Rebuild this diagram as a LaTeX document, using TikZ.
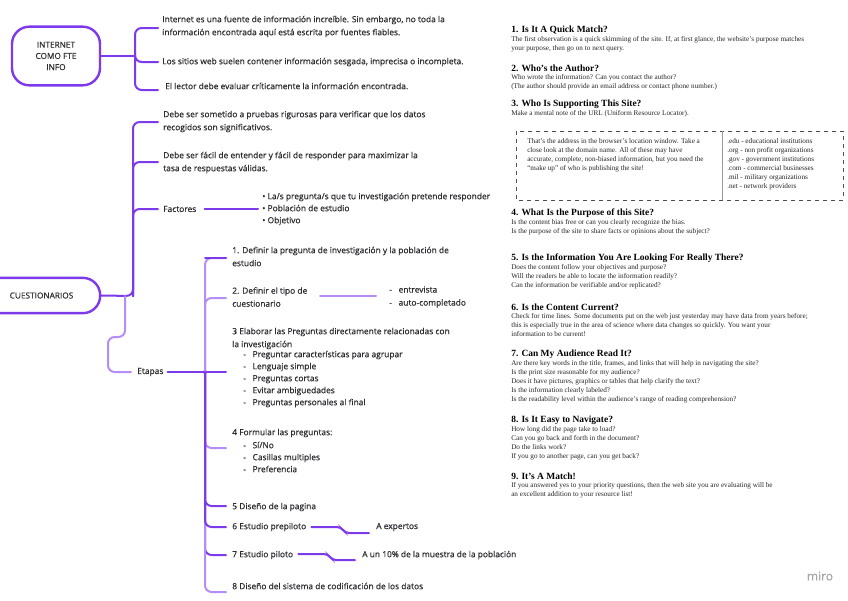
\documentclass[tikz,border=0pt]{standalone}
\usepackage{fontspec}
\setmainfont{Liberation Serif}
\newfontfamily\osans[FakeBold=0.5]{Open Sans}
\usetikzlibrary{calc}
\definecolor{pdark}{RGB}{125,58,235}
\definecolor{plight}{RGB}{180,142,246}
\definecolor{ink}{RGB}{45,45,50}
\begin{document}
\begin{tikzpicture}[x=0.75pt,y=-0.75pt,
  conn/.style={draw=pdark, line width=1.5pt, rounded corners=5pt, line cap=round},
  connl/.style={conn, draw=plight},
  mm/.style={font=\fontsize{6.3}{9.75}\selectfont\osans, text=ink, anchor=west, align=left, inner sep=0pt},
  mmlist/.style={mm, font=\fontsize{6.3}{9}\selectfont\osans},
  hub/.style={draw=pdark, line width=1.8pt, font=\fontsize{6.2}{8.4}\selectfont\osans, text=ink, align=center, inner sep=0pt},
  ttl/.style={font=\fontsize{7.1}{8}\selectfont\bfseries, anchor=west, inner sep=0pt},
  bod/.style={font=\fontsize{5.4}{6.75}\selectfont, anchor=north west, align=left, inner sep=0pt, text=black!85}
]
\useasboundingbox (0,0) rectangle (848,600);
\fill[white] (0,0) rectangle (848,600);

% ---------- INTERNET COMO FTE INFO ----------
\node[hub, rounded corners=13pt, minimum width=66pt, minimum height=44pt] (inet) at (56,56) {INTERNET\\COMO FTE\\INFO};
\coordinate (jI) at (135,56);
\coordinate (i1) at (158,28);
\coordinate (i2) at (158,62);
\coordinate (i3) at (158,90);
\draw[conn] (inet.east) -- (jI);
\draw[conn] (i1) -| (jI) |- (i3);
\draw[conn] (jI) |- (i2);
\node[mm] (t1) at (162,26.5) {Internet es una fuente de información increíble. Sin embargo, no toda la\\información encontrada aquí está escrita por fuentes fiables.};
\node[mm] (t2) at (162,62) {Los sitios web suelen contener información sesgada, imprecisa o incompleta.};
\node[mm] (t3) at (165,86) {El lector debe evaluar críticamente la información encontrada.};

% ---------- CUESTIONARIOS ----------
\node[hub, rounded corners=13pt, minimum width=88pt, minimum height=26.5pt] (cq) at (41.5,295.5) {CUESTIONARIOS};
\coordinate (jC) at (133,296);
\coordinate (c1) at (158,122);
\coordinate (c2) at (158,162);
\coordinate (c3) at (158,209);
\draw[conn] (c1) -| (jC) -- (cq.east);
\draw[conn] (c2) -| (jC);
\draw[conn] (c3) -| (jC);
\node[mm] (q1) at (163,121.5) {Debe ser sometido a pruebas rigurosas para verificar que los datos\\recogidos son significativos.};
\node[mm] (q2) at (163,162.5) {Debe ser fácil de entender y fácil de responder para maximizar la\\tasa de respuestas válidas.};
\node[mm] (fac) at (163,209) {Factores};
\node[mmlist] (facb) at (262,209) {• La/s pregunta/s que tu investigación pretende responder\\• Población de estudio\\• Objetivo};
\draw[conn] ($(fac.east)+(8,0)$) -- ($(facb.west)+(-4,0)$);

% ---------- Etapas ----------
\coordinate (kC) at (125,296);
\node[mm] (eta) at (137,372) {Etapas};
\draw[connl] (kC) -- (125,337) -- (108,337) -- (108,372) -- ($(eta.west)+(-6,0)$);
\coordinate (jE) at (205,372);
\draw[conn] ($(eta.east)+(4,0)$) -- (jE);
\fill[pdark] (jE) circle (1.5pt);

\coordinate (e1p) at (226,258);
\coordinate (e2p) at (226,298);
\coordinate (e3p) at (226,372);
\coordinate (e4p) at (226,448);
\coordinate (e5p) at (226,506);
\coordinate (e6p) at (226,527);
\coordinate (e7p) at (226,555);
\coordinate (e8p) at (226,592);
\draw[connl] (e1p) -| (jE);
\draw[connl] (e2p) -| (jE);
\draw[conn] (e3p) -- (jE);
\draw[conn] (e7p) -| (jE);
\draw[connl] (e8p) -| (jE);
\draw[connl] (e4p) -| (jE);
\draw[conn] (e5p) -| (jE);
\draw[conn] (e6p) -| (jE);
\draw[conn] (e1p) -- (205,258);

\node[mm] (e1) at (232,256.5) {1. Definir la pregunta de investigación y la población de\\estudio};
\node[mm] (e2) at (232,297) {2. Definir el tipo de\\cuestionario};
\node[mm] (e2b) at (389,297) {-\hspace{5pt}entrevista\\-\hspace{5pt}auto-completado};
\draw[connl] (320,296) -- ($(e2b.west)+(-13,-1)$);
\node[mm] (e3) at (232,338.5) {3 Elaborar las Preguntas directamente relacionadas con\\la investigación};
\node[mmlist] (e3b) at (243,379) {-\hspace{5pt}Preguntar características para agrupar\\-\hspace{5pt}Lenguaje simple\\-\hspace{5pt}Preguntas cortas\\-\hspace{5pt}Evitar ambiguedades\\-\hspace{5pt}Preguntas personales al final};
\node[mm] (e4) at (232,433) {4 Formular las preguntas:};
\node[mmlist] (e4b) at (243,457) {-\hspace{5pt}Sí/No\\-\hspace{5pt}Casillas multiples\\-\hspace{5pt}Preferencia};
\node[mm] (e5) at (232,507) {5 Diseño de la pagina};
\node[mm] (e6) at (232,527) {6 Estudio prepiloto};
\node[mm] (ax) at (376,527) {A expertos};
\draw[conn, rounded corners=3pt] ($(e6.east)+(5,0)$) -- (341,527) -- (345,533) -- ($(ax.west |- 0,533)+(-7,0)$);
\node[mm] (e7) at (232,555) {7 Estudio piloto};
\node[mm] (ay) at (362,555) {A un 10\% de la muestra de la población};
\draw[conn, rounded corners=3pt] ($(e7.east)+(5,-1)$) -- (328,554) -- (332,560) -- ($(ay.west |- 0,560)+(-7,0)$);
\node[mm] (e8) at (232,586) {8 Diseño del sistema de codificación de los datos};

% ---------- Right column ----------
\node[ttl] (h1) at (511,30) {1. Is It A Quick Match?};
\node[bod] (b1) at (511,36) {The first observation is a quick skimming of the site. If, at first glance, the website's purpose matches\\your purpose, then go on to next query.};
\node[ttl] (h2) at (511,68) {2. Who's the Author?};
\node[bod] (b2) at (511,74) {Who wrote the information? Can you contact the author?\\(The author should provide an email address or contact phone number.)};
\node[ttl] (h3) at (511,104) {3. Who Is Supporting This Site?};
\node[bod] (b3) at (511,110) {Make a mental note of the URL (Uniform Resource Locator).};
\draw[dashed, black!70, line width=0.6pt] (516,131) rectangle (843,200);
\draw[black!40, line width=0.6pt] (722,131) -- (722,200);
\node[bod] (bx1) at (527,138) {That's the address in the browser's location window. Take a\\close look at the domain name. All of these may have\\accurate, complete, non-biased information, but you need the\\``make up'' of who is publishing the site!};
\node[bod] (bx2) at (727,138) {.edu - educational institutions\\.org - non profit organizations\\.gov - government institutions\\.com - commercial businesses\\.mil - military organizations\\.net - network providers};
\node[ttl] (h4) at (511,213) {4. What Is the Purpose of this Site?};
\node[bod] (b4) at (511,219) {Is the content bias free or can you clearly recognize the bias.\\Is the purpose of the site to share facts or opinions about the subject?};
\node[ttl] (h5) at (511,258) {5. Is the Information You Are Looking For Really There?};
\node[bod] (b5) at (511,264) {Does the content follow your objectives and purpose?\\Will the readers be able to locate the information readily?\\Can the information be verifiable and/or replicated?};
\node[ttl] (h6) at (511,307) {6. Is the Content Current?};
\node[bod] (b6) at (511,313) {Check for time lines. Some documents put on the web just yesterday may have data from years before;\\this is especially true in the area of science where data changes so quickly. You want your\\information to be current!};
\node[ttl] (h7) at (511,354) {7. Can My Audience Read It?};
\node[bod] (b7) at (511,360) {Are there key words in the title, frames, and links that will help in navigating the site?\\Is the print size reasonable for my audience?\\Does it have pictures, graphics or tables that help clarify the text?\\Is the information clearly labeled?\\Is the readability level within the audience's range of reading comprehension?};
\node[ttl] (h8) at (511,420) {8. Is It Easy to Navigate?};
\node[bod] (b8) at (511,426) {How long did the page take to load?\\Can you go back and forth in the document?\\Do the links work?\\If you go to another page, can you get back?};
\node[ttl] (h9) at (511,476) {9. It's A Match!};
\node[bod] (b9) at (511,482) {If you answered yes to your priority questions, then the web site you are evaluating will be\\an excellent addition to your resource list!};

\node[font=\fontsize{9}{10}\selectfont\osans, text=black!35, inner sep=0pt] (miro) at (820,576) {miro};
\end{tikzpicture}
\end{document}
